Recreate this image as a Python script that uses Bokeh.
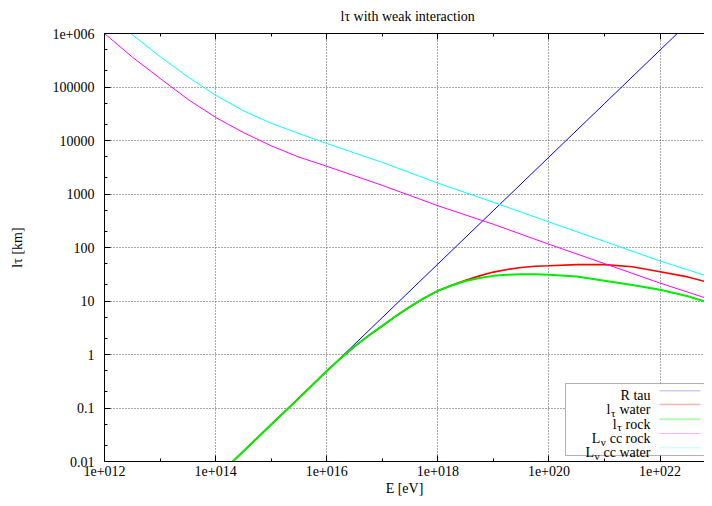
import numpy as np
from bokeh.plotting import figure
from bokeh.models import (LogAxis, FixedTicker, CustomJSTickFormatter, Label,
                          BoxAnnotation, PolyAnnotation, Range1d)
from bokeh.embed import file_html
from bokeh.resources import INLINE

# ---------------- data ----------------
x_ticks = [1e12, 1e14, 1e16, 1e18, 1e20, 1e22]
x_tick_labels = ["1e+012", "1e+014", "1e+016", "1e+018", "1e+020", "1e+022"]
x_minor = [1e13, 1e15, 1e17, 1e19, 1e21, 1e23]
y_ticks = [0.01, 0.1, 1, 10, 100, 1000, 10000, 100000, 1e6]
y_tick_labels = ["0.01", "0.1", "1", "10", "100", "1000", "10000", "100000", "1e+006"]
y_minor = [m * d for d in [0.01, 0.1, 1, 10, 100, 1000, 10000, 100000] for m in (2, 5)]

# R tau (decay length)
E_r = [1e14, 1e15, 1e16, 1e17, 1e18, 1e19, 1e20, 1e21, 1e22, 1e23]
R_tau = [0.0049, 0.049, 0.49, 4.9, 49, 490, 4900, 49000, 490000, 4.9e6]

# l_tau water / rock
E_l = [1e14, 1e15, 3.16e15, 1e16, 1.78e16, 3.16e16, 5.62e16, 1e17, 1.78e17,
       3.16e17, 5.62e17, 1e18, 1.78e18, 3.16e18, 5.62e18, 1e19, 1.78e19,
       3.16e19, 5.62e19, 1e20, 3.16e20, 1e21, 3.16e21, 1e22, 3.16e22, 1e23]
l_water = [0.0049, 0.049, 0.153, 0.49, 0.85, 1.41, 2.24, 3.39, 5.25,
           7.76, 11.2, 15.5, 19.7, 24.3, 29.5, 34.7, 38.9,
           42.2, 44.7, 45.7, 47.9, 47.9, 43.7, 35.1, 28.2, 20.4]
l_rock = [0.0049, 0.049, 0.153, 0.49, 0.85, 1.41, 2.24, 3.42, 5.3,
          7.85, 11.3, 15.5, 19.5, 23.7, 26.9, 29.5, 30.9,
          31.6, 31.6, 30.9, 28.8, 24.0, 20.0, 16.2, 12.3, 8.5]

# L_nu cc rock / water
E_n = [1e12, 3.16e12, 1e13, 3.16e13, 1e14, 3.16e14, 1e15, 3.16e15, 1e16,
       1e17, 1e18, 1e19, 1e20, 1e21, 1e22, 1e23]
L_rock = [1.0e6, 3.63e5, 1.45e5, 5.9e4, 2.7e4, 1.41e4, 7950, 4900, 3300,
          1450, 604, 272, 115, 50, 21.6, 9.9]
L_water = [2.6e6, 9.5e5, 3.7e5, 1.55e5, 7.0e4, 3.6e4, 2.1e4, 1.35e4, 8800,
           3900, 1600, 700, 300, 130, 56, 26]

FONT = "Liberation Serif"
FS = "14px"

p = figure(width=704, height=498, x_axis_type="log", y_axis_type="log",
           x_range=Range1d(1e12, 10 ** 22.80), y_range=Range1d(0.01, 1e6),
           output_backend="svg", toolbar_location=None,
           min_border_left=104, min_border_right=0, min_border_top=33,
           min_border_bottom=35)
p.outline_line_color = None
p.background_fill_color = "white"
p.border_fill_color = "white"

p.title.text = "lτ with weak interaction"
p.title.align = "left"
p.title.offset = 236
p.title.text_font = FONT
p.title.text_font_size = FS
p.title.text_font_style = "normal"
p.title.text_color = "black"

xb = p.below[0]
yl = p.left[0]

fx = CustomJSTickFormatter(args=dict(vals=x_ticks, labs=x_tick_labels), code="""
const i = vals.findIndex(v => Math.abs(Math.log10(v) - Math.log10(tick)) < 1e-6);
return i >= 0 ? labs[i] : "";
""")
fy = CustomJSTickFormatter(args=dict(vals=y_ticks, labs=y_tick_labels), code="""
const i = vals.findIndex(v => Math.abs(Math.log10(v) - Math.log10(tick)) < 1e-6);
return i >= 0 ? labs[i] : "";
""")
fnone = CustomJSTickFormatter(code="return ' ';")

xt = FixedTicker(ticks=x_ticks, minor_ticks=x_minor)
yt = FixedTicker(ticks=y_ticks, minor_ticks=y_minor)

top = LogAxis()
p.add_layout(top, "above")

for ax, t, f in ((xb, xt, fx), (yl, yt, fy), (top, xt, fnone)):
    ax.ticker = t
    ax.formatter = f
    ax.major_tick_in = 6
    ax.major_tick_out = 0
    ax.minor_tick_in = 3
    ax.minor_tick_out = 0
    ax.axis_line_color = "black"
    ax.major_tick_line_color = "black"
    ax.minor_tick_line_color = "black"
    ax.major_label_text_font = FONT
    ax.major_label_text_font_size = FS
    ax.major_label_text_color = "black"
    ax.axis_label_text_font = FONT
    ax.axis_label_text_font_size = FS
    ax.axis_label_text_font_style = "normal"
    ax.axis_label_text_color = "black"

top.major_label_text_font_size = "2px"
top.major_label_standoff = 0
xb.major_label_standoff = 4
xb.axis_label = "E [eV]"
xb.axis_label_standoff = 2
yl.major_label_standoff = 10
yl.axis_label = "lτ [km]"
yl.axis_label_standoff = 24

for g, t in ((p.xgrid[0], xt), (p.ygrid[0], yt)):
    g.ticker = t
    g.grid_line_color = "#555555"
    g.grid_line_dash = "1 2"
    g.grid_line_width = 1

series = [
    (E_r, R_tau, "#0000ff", 1.0),
    (E_l, l_water, "#ff0000", 1.6),
    (E_l, l_rock, "#00ee00", 2.0),
    (E_n, L_rock, "#ff00ff", 1.0),
    (E_n, L_water, "#00ffff", 1.0),
]
for xs, ys, c, w in series:
    p.line(xs, ys, line_color=c, line_width=w)


def lab(x, y, text, size=FS, align="left"):
    p.add_layout(Label(x=x, y=y, x_units="screen", y_units="screen", text=text,
                       text_font=FONT, text_font_size=size, text_color="black",
                       text_align=align, text_baseline="alphabetic",
                       level="overlay"))


# legend (inside the frame, lower right)
p.add_layout(BoxAnnotation(left=461, right=600, bottom=6, top=78,
                           left_units="screen", right_units="screen",
                           bottom_units="screen", top_units="screen",
                           fill_color="white", fill_alpha=1.0,
                           line_color="black", line_width=1, level="overlay"))
rows = [70.7, 57.0, 42.3, 28.0, 13.7]
for (xs, ys, c, w), ry in zip(series, rows):
    p.add_layout(PolyAnnotation(xs=[555, 596], ys=[ry, ry], xs_units="screen",
                                ys_units="screen", line_color=c, line_width=w,
                                fill_alpha=0.0, level="overlay"))

TX = 546
lab(TX, rows[0] - 5, "R tau", align="right")
# l_tau water
lab(TX, rows[1] - 5, "water", align="right")
lab(TX - 35.1, rows[1] - 8, "τ", size="11px", align="right")
lab(TX - 40.0, rows[1] - 5, "l", align="right")
# l_tau rock
lab(TX, rows[2] - 5, "rock", align="right")
lab(TX - 28.9, rows[2] - 8, "τ", size="11px", align="right")
lab(TX - 33.8, rows[2] - 5, "l", align="right")
# L_nu cc rock
lab(TX, rows[3] - 5, "cc rock", align="right")
lab(TX - 44.8, rows[3] - 8, "ν", size="11px", align="right")
lab(TX - 50.3, rows[3] - 5, "L", align="right")
# L_nu cc water
lab(TX, rows[4] - 5, "cc water", align="right")
lab(TX - 51.0, rows[4] - 8, "ν", size="11px", align="right")
lab(TX - 56.5, rows[4] - 5, "L", align="right")

open("out.html", "w").write(file_html(p, INLINE))
